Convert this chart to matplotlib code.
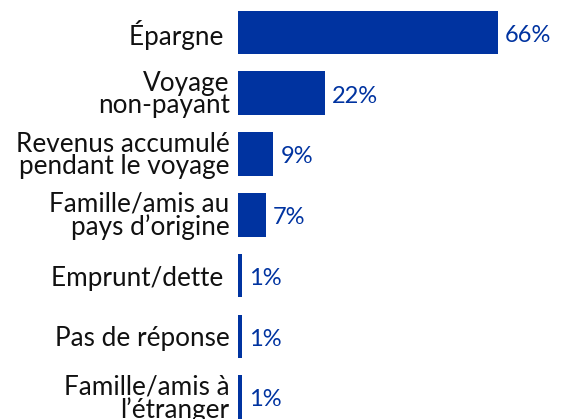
import numpy
import matplotlib
matplotlib.use('Agg')
import matplotlib.pyplot as pyplot


# Data

categories = ['Épargne ', 'Voyage\nnon-payant', 'Revenus accumulé\npendant le voyage',
              'Famille/amis au\npays d\u2019origine', 'Emprunt/dette ', 'Pas de réponse',
              'Famille/amis à\nl\u2019étranger']
values = [66, 22, 9, 7, 1, 1, 1]
value_labels = ['66%', '22%', '9%', '7%', '1%', '1%', '1%']


# Style

blue = '#0033a0'
pyplot.rcParams['font.family'] = ['Lato', 'DejaVu Sans']

fig = pyplot.figure(figsize = (5.67, 4.19), dpi = 100)
ax = fig.add_axes([238 / 567, 0, 1 - 238 / 567, 1])

pos = numpy.arange(len(categories))
ax.barh(pos, values, height = 0.717, color = blue)

for p, v, t in zip(pos, values, value_labels):
    ax.annotate(t, (v, p), xytext = (5, -2), textcoords = 'offset points',
                ha = 'left', va = 'center', color = blue, fontsize = 17)

ax.set_xlim(0, 329 / 3.94)
ax.set_ylim(6.36, -0.535)
ax.set_yticks(pos)
ax.set_yticklabels(categories, fontsize = 18.8, color = '#111111', linespacing = 0.88)
ax.tick_params(axis = 'y', length = 0, pad = 6)
ax.set_xticks([])
for s in ax.spines.values():
    s.set_visible(False)

pyplot.savefig('out.png', dpi = 100)
